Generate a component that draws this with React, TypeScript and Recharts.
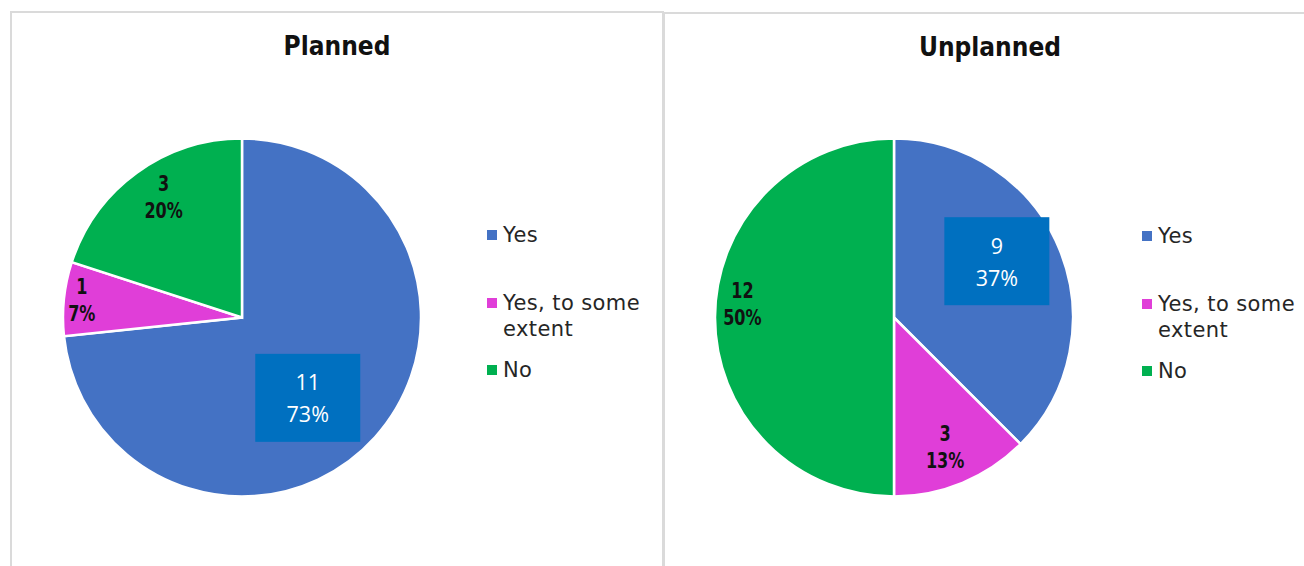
import React from 'react';
import { PieChart, Pie, Cell, Legend } from 'recharts';

const categories = ['Yes', 'Yes, to some extent', 'No'];
const plannedValues = [11, 1, 3];
const plannedPercents = ['73%', '7%', '20%'];
const unplannedValues = [9, 3, 12];
const unplannedPercents = ['37%', '13%', '50%'];
const titles = ['Planned', 'Unplanned'];

const COLORS = ['#4472C4', '#E03ED8', '#00B050'];
const BOX_COLOR = '#0070C0';
const RAD = Math.PI / 180;
const BOLD_FONT = "'DejaVu Sans Condensed', 'DejaVu Sans', sans-serif";
const LEGEND_FONT = "'DejaVu Sans', sans-serif";
const BOX_FONT = "'Open Sans', sans-serif";

const makeData = (values: number[], pcts: string[]) =>
  categories.map((name, i) => ({ name, value: values[i], pct: pcts[i] }));

const plannedData = makeData(plannedValues, plannedPercents);
const unplannedData = makeData(unplannedValues, unplannedPercents);

// label placement: radial fraction and angular nudge (degrees, clockwise) per slice
const makeLabel = (radii: number[], nudges: number[]) => (props: any) => {
  const { cx, cy, midAngle, outerRadius, index, value, payload } = props;
  const r = outerRadius * radii[index];
  const a = midAngle - nudges[index];
  const x = cx + r * Math.cos(-a * RAD);
  const y = cy + r * Math.sin(-a * RAD);
  const pct = payload && payload.pct !== undefined ? payload.pct : props.pct;
  if (index === 0) {
    return (
      <g>
        <rect x={x - 52.5} y={y - 44} width={105} height={88} fill={BOX_COLOR} />
        <text x={x} y={y - 16} textAnchor="middle" dominantBaseline="central" fill="#fff" fontFamily={BOX_FONT} fontSize={21.5}>
          {value}
        </text>
        <text x={x} y={y + 16} textAnchor="middle" dominantBaseline="central" fill="#fff" fontFamily={BOX_FONT} fontSize={21.5}>
          {pct}
        </text>
      </g>
    );
  }
  const squeeze = `translate(${x},0) scale(0.85,1) translate(${-x},0)`;
  return (
    <g transform={squeeze}>
      <text x={x} y={y - 13.5} textAnchor="middle" dominantBaseline="central" fill="#111" fontFamily={BOLD_FONT} fontWeight="bold" fontSize={21}>
        {value}
      </text>
      <text x={x} y={y + 13.5} textAnchor="middle" dominantBaseline="central" fill="#111" fontFamily={BOLD_FONT} fontWeight="bold" fontSize={21}>
        {pct}
      </text>
    </g>
  );
};

const legendGaps = [42, 15, 0];

const LegendContent = () => (
  <div style={{ fontFamily: LEGEND_FONT, fontSize: 21, lineHeight: '26px', letterSpacing: '0.4px', color: '#262626' }}>
    {categories.map((c, i) => (
      <div key={c} style={{ display: 'flex', alignItems: 'flex-start', marginBottom: legendGaps[i] }}>
        <div style={{ width: 10, height: 10, background: COLORS[i], marginTop: 8, marginRight: 6, flex: 'none' }} />
        <div style={{ width: 160 }}>{c}</div>
      </div>
    ))}
  </div>
);

type PanelProps = {
  left: number;
  top: number;
  title: string;
  data: { name: string; value: number; pct: string }[];
  cx: number;
  cy: number;
  radii: number[];
  nudges: number[];
  legendLeft: number;
};

const Panel = ({ left, top, title, data, cx, cy, radii, nudges, legendLeft }: PanelProps) => (
  <div
    style={{
      position: 'absolute',
      left,
      top,
      width: 654,
      height: 600,
      boxSizing: 'border-box',
      border: '2px solid #DADADA',
      background: '#fff',
    }}
  >
    <div
      style={{
        position: 'absolute',
        left: 0,
        top: 20,
        width: '100%',
        textAlign: 'center',
        fontFamily: BOLD_FONT,
        fontWeight: 'bold',
        fontSize: 26,
        lineHeight: '26px',
        color: '#111',
        zIndex: 2,
      }}
    >
      {title}
    </div>
    <div style={{ position: 'absolute', left: 0, top: 0 }}>
      <PieChart width={650} height={560} margin={{ top: 0, right: 0, bottom: 0, left: 0 }}>
        <Pie
          data={data}
          dataKey="value"
          nameKey="name"
          cx={cx}
          cy={cy}
          outerRadius={179}
          startAngle={90}
          endAngle={-270}
          stroke="#fff"
          strokeWidth={2.5}
          labelLine={false}
          label={makeLabel(radii, nudges)}
          isAnimationActive={false}
        >
          {data.map((d, i) => (
            <Cell key={d.name} fill={COLORS[i]} />
          ))}
        </Pie>
        <Legend
          content={() => <LegendContent />}
          layout="vertical"
          verticalAlign="middle"
          align="right"
          wrapperStyle={{ left: legendLeft, top: 209, width: 180, right: 'auto', bottom: 'auto' }}
        />
      </PieChart>
    </div>
  </div>
);

export default function App() {
  return (
    <div
      style={{
        position: 'absolute',
        left: 0,
        top: 0,
        width: 1304,
        height: 566,
        overflow: 'hidden',
        background: '#fff',
      }}
    >
      <Panel
        left={10}
        top={11}
        title={titles[0]}
        data={plannedData}
        cx={230}
        cy={304.5}
        radii={[0.58, 0.9, 0.8]}
        nudges={[8.7, 0, 2.8]}
        legendLeft={475}
      />
      <Panel
        left={663}
        top={12}
        title={titles[1]}
        data={unplannedData}
        cx={229}
        cy={303.5}
        radii={[0.655, 0.78, 0.85]}
        nudges={[-6.2, 1, 5]}
        legendLeft={477}
      />
    </div>
  );
}
